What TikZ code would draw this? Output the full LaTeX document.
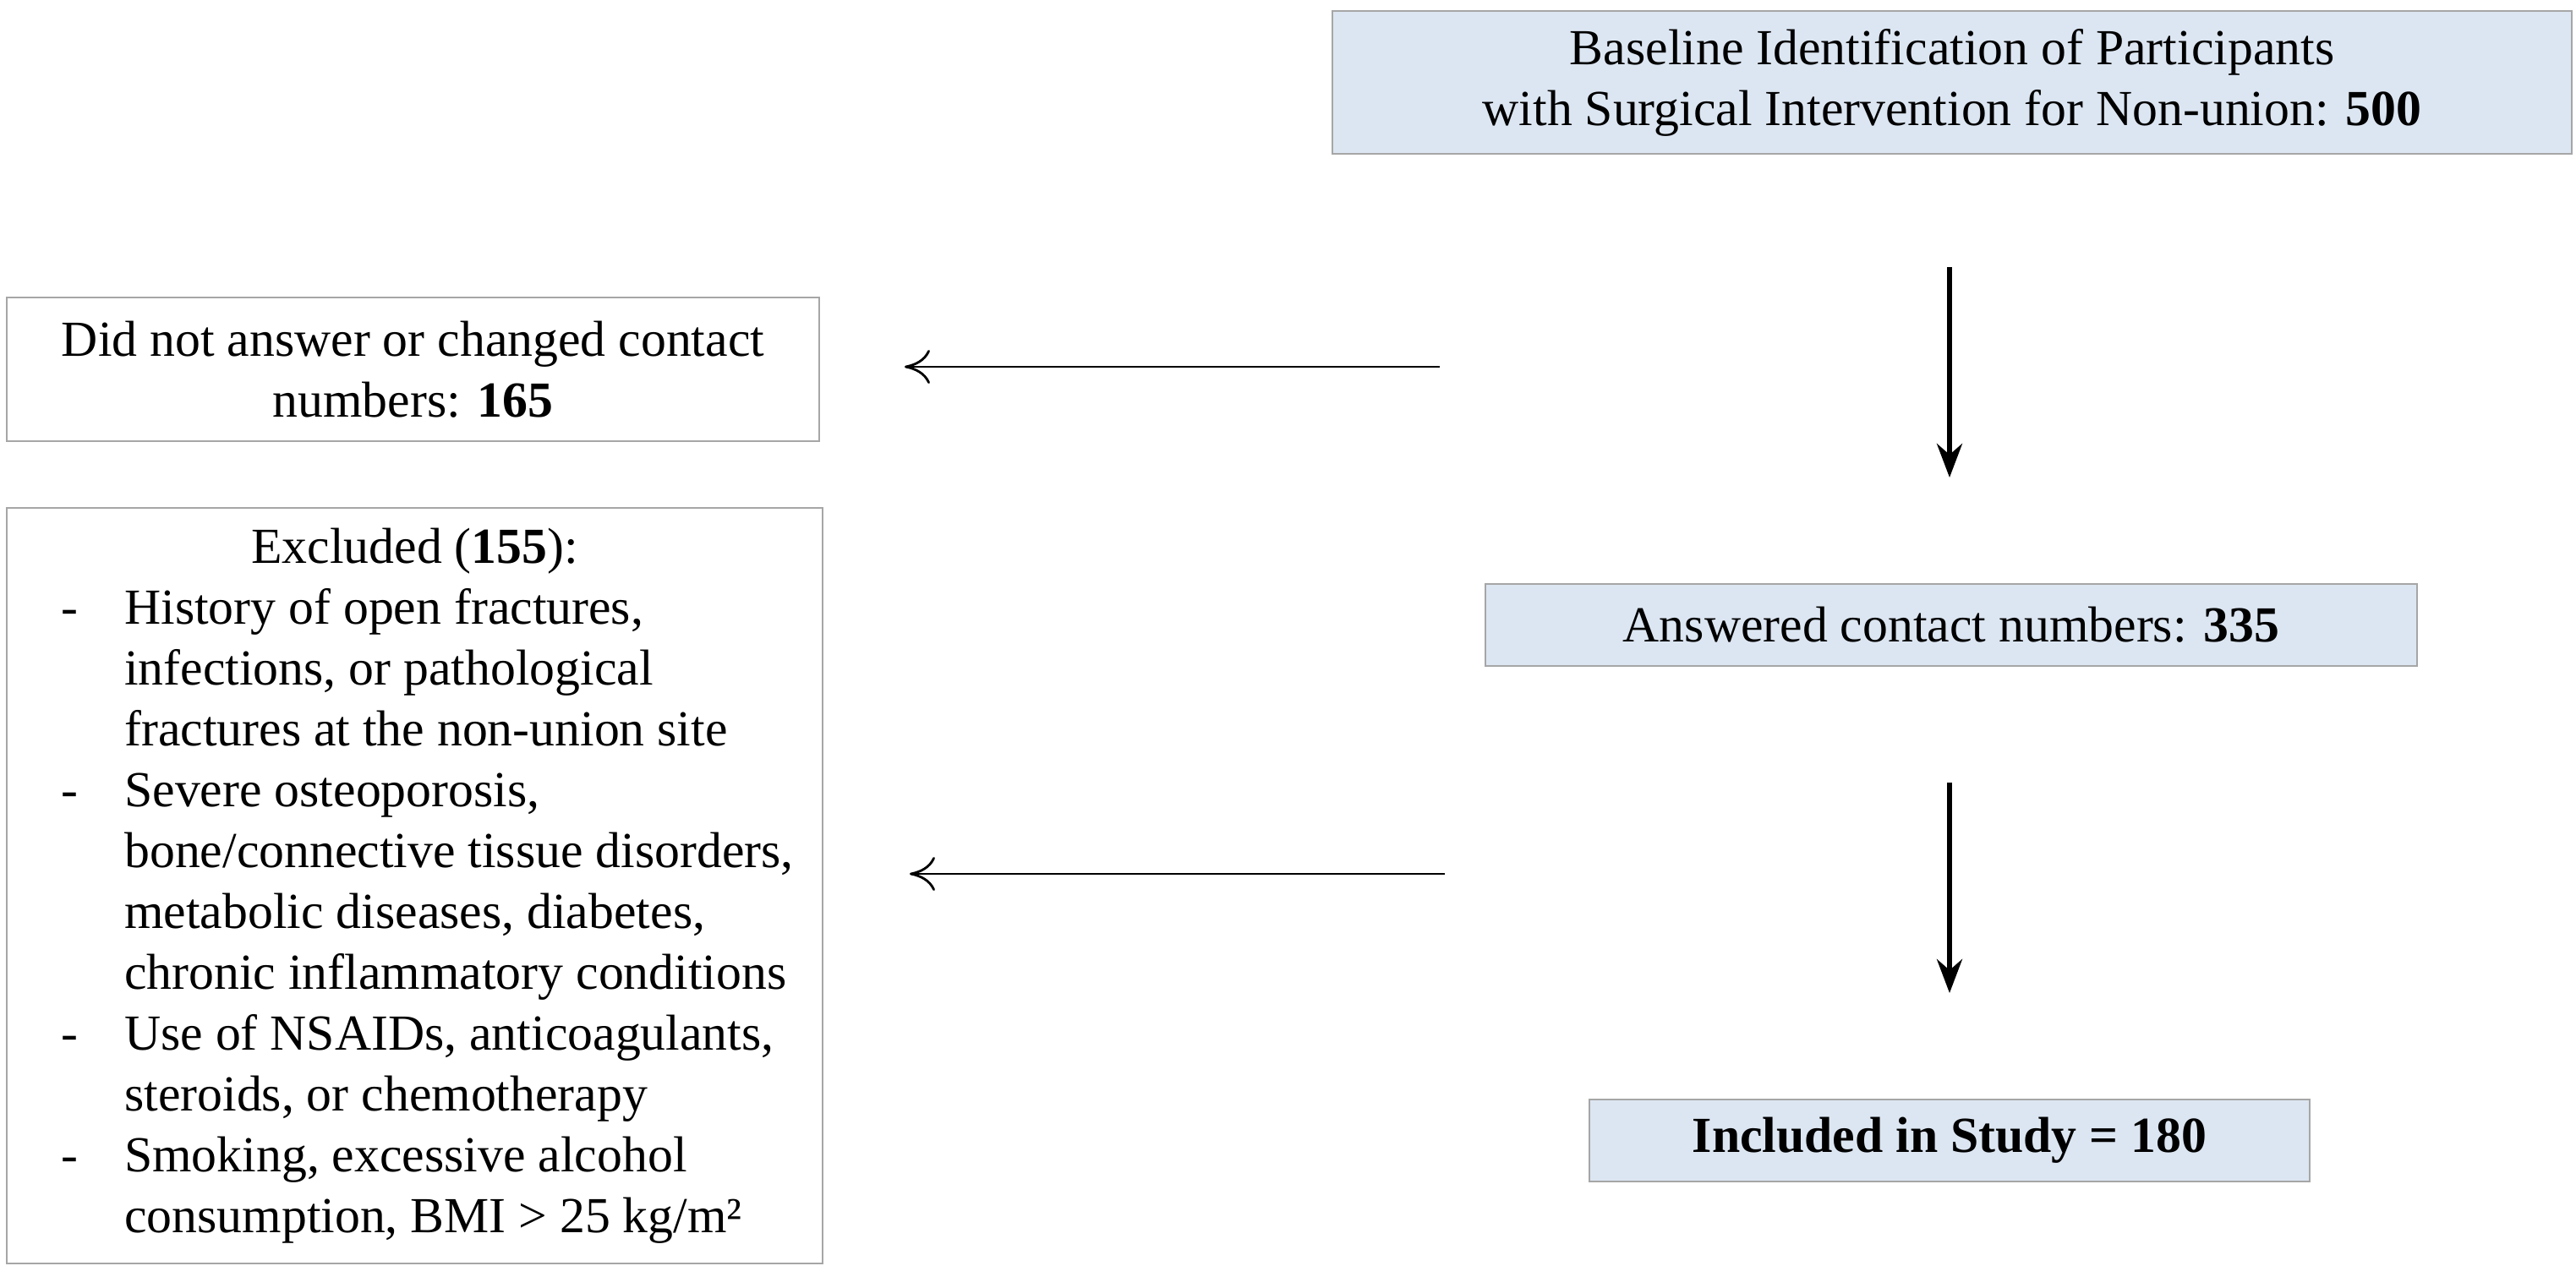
\documentclass[tikz,border=0pt]{standalone}
\usepackage{fontspec}
\setmainfont{Liberation Serif}
\usetikzlibrary{arrows.meta,positioning}
\definecolor{boxblue}{HTML}{DCE6F2}
\definecolor{boxline}{HTML}{A6A6A6}

\begin{document}
\begin{tikzpicture}[
            font = \fontsize{17}{20.5}\selectfont,
            >= Stealth, % arrow head style
            inner sep = 0pt
        ]

        \tikzset{
            stepbox/.style = {draw = boxline, thick, fill = boxblue, align = center},
            outbox/.style = {draw = boxline, thick, fill = white, align = center},
            downarrow/.style = {line width = 1.6pt, -{Stealth[length=4mm,width=3mm]}},
            sidearrow/.style = {line width = 0.8pt, -{To[length=3mm,width=4mm]}}
        }

        \useasboundingbox (0,0) rectangle (30.47,-14.98);

        % Main flow
        \node[stepbox, minimum width = 14.66cm, minimum height = 1.69cm] (base) at (23.09,-0.975)
            {Baseline Identification of Participants\\with Surgical Intervention for Non-union: \textbf{500}};
        \node[stepbox, minimum width = 11.02cm, minimum height = 0.97cm] (answered) at (23.08,-7.395)
            {Answered contact numbers: \textbf{335}};
        \node[stepbox, minimum width = 8.52cm, minimum height = 0.97cm] (included) at (23.06,-13.495)
            {\textbf{Included in Study = 180}};
        % Side boxes
        \node[outbox, minimum width = 9.61cm, minimum height = 1.70cm] (noanswer) at (4.885,-4.37)
            {Did not answer or changed contact\\numbers: \textbf{165}};
        \node[outbox, minimum width = 9.65cm, minimum height = 8.94cm] (excluded) at (4.905,-10.48)
            {\begin{tabular}{@{}p{1.05cm}@{}l@{}}
            \multicolumn{2}{c}{Excluded (\textbf{155}):}\\
            \hspace{0.3cm}- & History of open fractures,\\
              & infections, or pathological\\
              & fractures at the non-union site\\
            \hspace{0.3cm}- & Severe osteoporosis,\\
              & bone/connective tissue disorders,\\
              & metabolic diseases, diabetes,\\
              & chronic inflammatory conditions\\
            \hspace{0.3cm}- & Use of NSAIDs, anticoagulants,\\
              & steroids, or chemotherapy\\
            \hspace{0.3cm}- & Smoking, excessive alcohol\\
              & consumption, BMI > 25 kg/m²
            \end{tabular}};

        % Arrow ends
        \coordinate (d1s) at (23.06,-3.16);
        \coordinate (d1e) at (23.06,-5.65);
        \coordinate (d2s) at (23.06,-9.26);
        \coordinate (d2e) at (23.06,-11.75);
        \coordinate (s1s) at (17.03,-4.34);
        \coordinate (s1e) at (10.70,-4.34);
        \coordinate (s2s) at (17.09,-10.34);
        \coordinate (s2e) at (10.76,-10.34);

        \draw[downarrow] (d1s) -- (d1e);
        \draw[downarrow] (d2s) -- (d2e);
        \draw[sidearrow] (s1s) -- (s1e);
        \draw[sidearrow] (s2s) -- (s2e);
\end{tikzpicture}
\end{document}
